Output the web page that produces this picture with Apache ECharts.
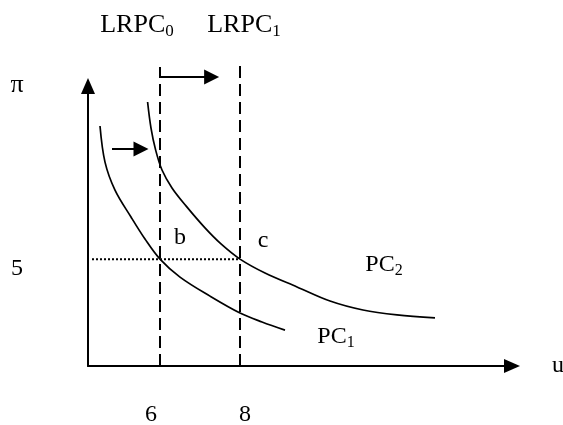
<!DOCTYPE html>
<html><head><meta charset="utf-8">
<script src="https://cdn.jsdelivr.net/npm/echarts@6/dist/echarts.min.js"></script>
<style>html,body{margin:0;padding:0;background:#fff}#c{width:563px;height:425px}</style>
</head><body><div id="c"></div>
<script>
// ---- data ----
const uTicks = [6, 8];
const piTicks = [5];
const piLevel = 5;
const pc1U  = [4.5, 4.625, 4.875, 5.275, 5.625, 6.0, 6.5, 7.25, 8.0, 8.55, 9.125];
const pc1Pi = [11.23, 9.54, 8.23, 6.97, 5.94, 5.0, 4.16, 3.27, 2.48, 2.06, 1.68];
const pc2U  = [5.69, 5.775, 5.89, 6.05, 6.3, 6.65, 7.125, 7.525, 8.0, 8.625, 9.425, 10.25, 11.075, 11.925, 12.875];
const pc2Pi = [12.35, 11.13, 10.11, 9.17, 8.33, 7.49, 6.46, 5.71, 5.0, 4.35, 3.70, 3.04, 2.62, 2.39, 2.25];
const lrpcU = [6, 8];
const lrpcTop = [13.99, 14.32];
const lrpcSub = ['0', '1'];
const dottedU = [4.3, 8];
const shiftArrowU = [6, 7.29];
const shiftArrowPi = 13.52;
const smallArrowU = [4.8, 5.525];
const smallArrowPi = 10.15;
const pointLabels = ['b', 'c'];

const FONT = 'Liberation Serif';
const rich = {
  m: {fontSize: 24, lineHeight: 28, fontFamily: FONT, color: '#000'},
  s: {fontSize: 16, lineHeight: 16, fontFamily: FONT, color: '#000', verticalAlign: 'bottom'},
  L: {fontSize: 26, lineHeight: 30, fontFamily: FONT, color: '#000'},
  Ls: {fontSize: 17, lineHeight: 17, fontFamily: FONT, color: '#000', verticalAlign: 'bottom'}
};
const zip = (a, b) => a.map((v, i) => [v, b[i]]);

const labelData = [
  {value: [lrpcU[0], piLevel], label: {formatter: pointLabels[0], offset: [20, -21]}},
  {value: [lrpcU[1], piLevel], label: {formatter: pointLabels[1], offset: [23, -18]}},
  {value: [lrpcU[0], lrpcTop[0]], label: {formatter: '{L|LRPC}{Ls|' + lrpcSub[0] + '}', offset: [-23, -41]}},
  {value: [lrpcU[1], lrpcTop[1]], label: {formatter: '{L|LRPC}{Ls|' + lrpcSub[1] + '}', offset: [4, -34]}},
  {value: [pc1U[pc1U.length-1], pc1Pi[pc1Pi.length-1]], label: {formatter: '{m|PC}{s|1}', offset: [51, 7]}},
  {value: [pc2U[pc2U.length-1], pc2Pi[pc2Pi.length-1]], label: {formatter: '{m|PC}{s|2}', offset: [-51, -53]}}
];

const blackLine = (w, type) => ({color: '#000', width: w, type: type || 'solid'});

const option = {
  animation: false,
  backgroundColor: '#fff',
  textStyle: {fontFamily: FONT, color: '#000'},
  grid: {left: 88, top: 86, right: 51, bottom: 59, containLabel: false, outerBoundsMode: 'none'},
  xAxis: {
    type: 'value', min: 4.2, max: 14.8,
    axisLine: {show: true, lineStyle: blackLine(2), symbol: ['none', 'triangle'], symbolSize: [14, 16]},
    axisTick: {show: false}, splitLine: {show: false},
    axisLabel: {
      customValues: uTicks, margin: 37, color: '#000', fontSize: 24, fontFamily: FONT,
      formatter: v => (v === uTicks[0] ? '{l|' + v + '}' : '{r|' + v + '}'),
      rich: {l: {fontSize: 24, fontFamily: FONT, color: '#000', padding: [0, 18, 0, 0]}, r: {fontSize: 24, fontFamily: FONT, color: '#000', padding: [0, 0, 0, 10]}}
    },
    name: 'u', nameLocation: 'end', nameGap: 40, nameMoveOverlap: false,
    nameTextStyle: {fontSize: 24, fontFamily: FONT, color: '#000', verticalAlign: 'middle', padding: [6, 0, 0, 0]}
  },
  yAxis: {
    type: 'value', min: 0, max: 13.1,
    axisLine: {show: true, lineStyle: blackLine(2), symbol: ['none', 'triangle'], symbolSize: [14, 16]},
    axisTick: {show: false}, splitLine: {show: false},
    axisLabel: {
      customValues: piTicks, margin: 65, color: '#000', fontSize: 24, fontFamily: FONT,
      formatter: v => '{a|' + v + '}',
      rich: {a: {fontSize: 24, fontFamily: FONT, color: '#000', padding: [20, 0, 0, 0]}}
    },
    name: 'π', nameLocation: 'end', nameGap: 1, nameMoveOverlap: false,
    nameTextStyle: {fontSize: 26, fontFamily: FONT, color: '#000', align: 'center', verticalAlign: 'middle', padding: [0, 142, 0, 0]}
  },
  series: [
    {type: 'line', name: 'PC1', data: zip(pc1U, pc1Pi), smooth: 0.35, showSymbol: false, symbol: 'none', lineStyle: blackLine(1.7), clip: false},
    {type: 'line', name: 'PC2', data: zip(pc2U, pc2Pi), smooth: 0.35, showSymbol: false, symbol: 'none', lineStyle: blackLine(1.7), clip: false},
    {type: 'line', name: 'LRPC0', data: [[lrpcU[0], 0], [lrpcU[0], lrpcTop[0]]], symbol: 'none', lineStyle: blackLine(2, [12, 6]), clip: false},
    {type: 'line', name: 'LRPC1', data: [[lrpcU[1], 0], [lrpcU[1], lrpcTop[1]]], symbol: 'none', lineStyle: blackLine(2, [12, 6]), clip: false},
    {type: 'line', name: 'pi5', data: [[dottedU[0], piLevel], [dottedU[1], piLevel]], symbol: 'none', lineStyle: blackLine(2, [2, 2]), clip: false},
    {type: 'lines', coordinateSystem: 'cartesian2d', clip: false,
     symbol: ['none', 'triangle'], symbolSize: [14, 15],
     lineStyle: {color: '#000', width: 2, opacity: 1, curveness: 0},
     data: [
       {coords: [[shiftArrowU[0], shiftArrowPi], [shiftArrowU[1], shiftArrowPi]]},
       {coords: [[smallArrowU[0], smallArrowPi], [smallArrowU[1], smallArrowPi]]}
     ]},
    {type: 'scatter', symbol: 'circle', symbolSize: 1, itemStyle: {color: '#fff', opacity: 0}, silent: true, clip: false,
     label: {show: true, position: 'top', distance: 0, align: 'center', verticalAlign: 'middle', fontSize: 24, fontFamily: FONT, color: '#000', opacity: 1, rich: rich},
     data: labelData}
  ]
};
const chart = echarts.init(document.getElementById('c'));
chart.setOption(option);
</script></body></html>
